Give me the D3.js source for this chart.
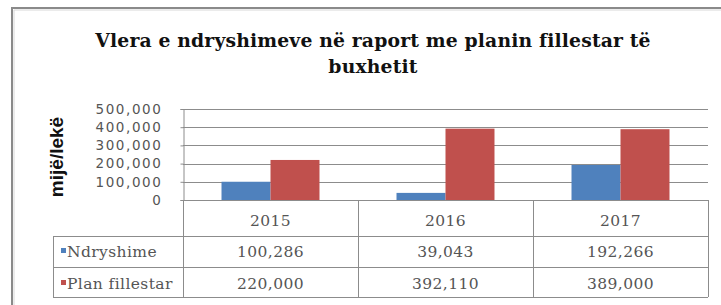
<!DOCTYPE html>
<html><head><meta charset="utf-8">
<script src="https://cdn.jsdelivr.net/npm/d3@7"></script>
<style>body{margin:0;background:#fff}svg{display:block}</style>
</head><body>
<script>
const categories = ["2015", "2016", "2017"];
const seriesNames = ["Ndryshime", "Plan fillestar"];
const ndryshime = [100286, 39043, 192266];
const planFillestar = [220000, 392110, 389000];
const seriesColors = ["#4F81BD", "#C0504D"];
const yTicks = [0, 100000, 200000, 300000, 400000, 500000];
const titleLines = ["Vlera e ndryshimeve në raport me planin fillestar të", "buxhetit"];
const yLabel = "mijë/lekë";

const W = 721, H = 305;
const svg = d3.select("body").append("svg").attr("width", W).attr("height", H);

// outer frame
svg.append("path").attr("d", "M12,305 V8 H721").attr("fill", "none")
  .attr("stroke", "#8a8a8a").attr("stroke-width", 2);
svg.append("path").attr("d", "M14,305 V10 H721").attr("fill", "none")
  .attr("stroke", "#d8d8d8").attr("stroke-width", 1);

const plotL = 183, plotR = 708, y0 = 200, yTop = 109;
const x = d3.scaleBand().domain(categories).range([plotL, plotR]).paddingInner(0).paddingOuter(0);
const xs = d3.scaleBand().domain(seriesNames).range([0, x.bandwidth()]).paddingInner(0).paddingOuter(0.786);
const y = d3.scaleLinear().domain([0, 500000]).range([y0, yTop]);
const fmt = d3.format(",");

// title
const title = svg.append("text").attr("text-anchor", "middle")
  .attr("font-family", "DejaVu Serif").attr("font-weight", "bold")
  .attr("font-size", 18.8).attr("letter-spacing", 0.15).attr("fill", "#111");
titleLines.forEach((t, i) => title.append("tspan").attr("x", 373).attr("y", 47 + i * 26).text(t));

// gridlines
svg.append("g").selectAll("line").data(yTicks.filter(d => d > 0)).join("line")
  .attr("x1", plotL).attr("x2", plotR).attr("y1", d => Math.round(y(d)) + 0.5).attr("y2", d => Math.round(y(d)) + 0.5)
  .attr("stroke", "#8c8c8c").attr("stroke-width", 1);

// y axis
const yAxis = svg.append("g").attr("transform", `translate(${plotL + 0.5},0)`)
  .call(d3.axisLeft(y).tickValues(yTicks).tickFormat(fmt).tickSize(3).tickPadding(18));
yAxis.select(".domain").attr("stroke", "#8c8c8c");
yAxis.selectAll(".tick line").attr("stroke", "#8c8c8c");
yAxis.selectAll(".tick text").attr("font-family", "DejaVu Sans").attr("font-size", 13.5)
  .attr("letter-spacing", 1.6).attr("fill", "#555");

// y label
svg.append("text").attr("transform", "translate(63,157) rotate(-90)").attr("text-anchor", "middle")
  .attr("font-family", "Liberation Sans").attr("font-weight", "bold").attr("font-size", 19)
  .attr("fill", "#111").text(yLabel);

// bars
const seriesData = [ndryshime, planFillestar];
seriesNames.forEach((s, si) => {
  svg.append("g").selectAll("rect").data(categories).join("rect")
    .attr("x", c => x(c) + xs(s)).attr("width", xs.bandwidth())
    .attr("y", (c, i) => y(seriesData[si][i])).attr("height", (c, i) => y0 - y(seriesData[si][i]))
    .attr("fill", seriesColors[si]);
});

// data table
const tableL = 53, rowY = [200, 236, 267, 297];
const tg = svg.append("g").attr("stroke", "#8c8c8c").attr("stroke-width", 1).attr("fill", "none");
tg.append("line").attr("x1", plotL).attr("x2", plotR).attr("y1", y0 + 0.5).attr("y2", y0 + 0.5);
[rowY[1], rowY[2], rowY[3]].forEach(ry => tg.append("line").attr("x1", tableL).attr("x2", plotR).attr("y1", ry + 0.5).attr("y2", ry + 0.5));
tg.append("line").attr("x1", tableL + 0.5).attr("x2", tableL + 0.5).attr("y1", rowY[1]).attr("y2", rowY[3]);
categories.forEach(c => tg.append("line").attr("x1", x(c) + 0.5).attr("x2", x(c) + 0.5).attr("y1", y0).attr("y2", rowY[3]));
tg.append("line").attr("x1", plotR + 0.5).attr("x2", plotR + 0.5).attr("y1", y0).attr("y2", rowY[3]);

const tstyle = sel => sel.attr("font-family", "DejaVu Serif").attr("font-size", 15.5)
  .attr("letter-spacing", 0.4).attr("fill", "#555");
svg.append("g").selectAll("text").data(categories).join("text")
  .attr("x", c => x(c) + x.bandwidth() / 2).attr("y", 226).attr("text-anchor", "middle")
  .call(tstyle).text(c => c);
const rowBase = [257, 289];
seriesNames.forEach((s, si) => {
  svg.append("rect").attr("x", 61).attr("y", rowBase[si] - 9).attr("width", 5).attr("height", 5)
    .attr("fill", seriesColors[si]);
  svg.append("text").attr("x", 67).attr("y", rowBase[si]).call(tstyle).text(s);
  svg.append("g").selectAll("text").data(categories).join("text")
    .attr("x", c => x(c) + x.bandwidth() / 2).attr("y", rowBase[si]).attr("text-anchor", "middle")
    .call(tstyle).text((c, i) => fmt(seriesData[si][i]));
});
</script>
</body></html>
